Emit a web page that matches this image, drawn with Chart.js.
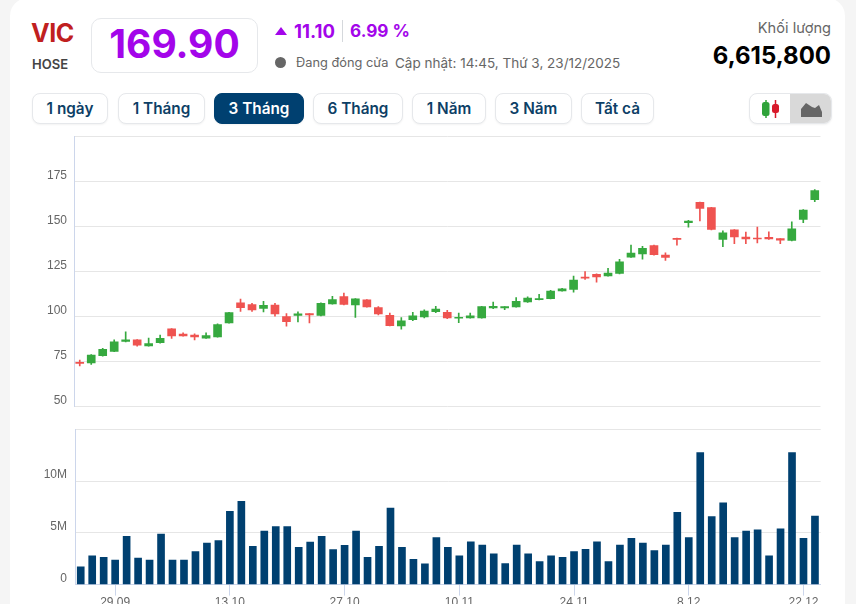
<!DOCTYPE html>
<html lang="vi">
<head>
<meta charset="UTF-8">
<title>VIC - HOSE</title>
<script src="https://cdn.jsdelivr.net/npm/chart.js"></script>
<style>
    html, body { margin: 0; height: 100%; overflow: hidden; background: #f5f5f5; font-family: Inter, Arial, sans-serif; }
    .card { position: absolute; left: 10px; top: -2px; width: 835px; height: 640px; background: #fff; border-radius: 18px; }
    .abs { position: absolute; white-space: nowrap; }
    .btn { position: absolute; top: 93px; height: 31px; line-height: 29px; box-sizing: border-box; text-align: center;
           border: 1px solid #e6e8eb; border-radius: 8px; font-size: 15.3px; font-weight: 600; color: #0d3f66; background: #fff;
           box-shadow: 0 1px 2px rgba(0,0,0,.05); }
    .btn.on { background: #004070; border-color: #004070; color: #fff; }
    canvas { position: absolute; left: 0; }
</style>
</head>
<body>
<div class="card"></div>

<div class="abs" style="left:31px;top:18px;font-size:25px;font-weight:700;color:#c0201f;letter-spacing:-.5px">VIC</div>
<div class="abs" style="left:32px;top:56px;font-size:13px;font-weight:600;color:#444">HOSE</div>
<div class="abs" style="left:91px;top:18px;width:167px;height:55px;box-sizing:border-box;border:1px solid #e6e8eb;border-radius:10px;text-align:center;line-height:49px;font-size:39px;font-weight:700;color:#a305ea">169.90</div>

<div class="abs" style="left:275px;top:27px;width:0;height:0;border-left:6.5px solid transparent;border-right:6.5px solid transparent;border-bottom:8px solid #a305ea"></div>
<div class="abs" style="left:294px;top:19.5px;font-size:18.5px;font-weight:700;color:#a305ea">11.10</div>
<div class="abs" style="left:342px;top:20px;width:1px;height:22px;background:#d5d8dc"></div>
<div class="abs" style="left:350px;top:20px;font-size:17.2px;font-weight:700;color:#a305ea">6.99 %</div>
<div class="abs" style="left:275px;top:57px;width:11px;height:11px;border-radius:50%;background:#666"></div>
<div class="abs" style="left:296px;top:55px;font-size:12.8px;color:#666">Đang đóng cửa</div>
<div class="abs" style="left:395px;top:55px;font-size:13.5px;color:#666">Cập nhật: 14:45, Thứ 3, 23/12/2025</div>

<div class="abs" style="right:25px;top:19px;font-size:14.6px;color:#666">Khối lượng</div>
<div class="abs" style="right:25px;top:41px;font-size:24px;font-weight:700;color:#000">6,615,800</div>

<div class="btn" style="left:32px;width:76px">1 ngày</div>
<div class="btn" style="left:118px;width:87px">1 Tháng</div>
<div class="btn on" style="left:214px;width:90px">3 Tháng</div>
<div class="btn" style="left:313px;width:90px">6 Tháng</div>
<div class="btn" style="left:412px;width:74px">1 Năm</div>
<div class="btn" style="left:495px;width:77px">3 Năm</div>
<div class="btn" style="left:581px;width:73px">Tất cả</div>

<div class="btn" style="left:749px;width:83px;overflow:hidden">
    <div class="abs" style="left:40px;top:0;width:42px;height:29px;background:#d9d9d9"></div>
    <svg class="abs" style="left:0;top:0" width="82" height="29">
        <path d="M16 6v18" stroke="#2fa33a" stroke-width="1.5"/><rect x="12" y="8" width="7.5" height="14" rx="2.5" fill="#2fa33a"/>
        <path d="M25.5 6v18" stroke="#d8192a" stroke-width="1.5"/><rect x="22" y="10" width="7" height="9" rx="2.5" fill="#d8192a"/>
        <path d="M51 23v-8l5-6 6 4 3 1 4-3 3 7v5z" fill="#666"/>
    </svg>
</div>

<canvas id="priceChart" width="856" height="299" style="top:122px"></canvas>
<canvas id="volumeChart" width="856" height="196" style="top:414px"></canvas>

<script>
    const dates = ['24.09','25.09','26.09','29.09','30.09','01.10','02.10','03.10','06.10','07.10','08.10','09.10','10.10',
        '13.10','14.10','15.10','16.10','17.10','20.10','21.10','22.10','23.10','24.10','27.10','28.10','29.10','30.10','31.10',
        '03.11','04.11','05.11','06.11','07.11','10.11','11.11','12.11','13.11','14.11','17.11','18.11','19.11','20.11','21.11',
        '24.11','25.11','26.11','27.11','28.11','01.12','02.12','03.12','04.12','05.12','08.12','09.12','10.12','11.12','12.12',
        '15.12','16.12','17.12','18.12','19.12','22.12','23.12'];
    const tickDates = ['29.09','13.10','27.10','10.11','24.11','8.12','22.12'];
    const tickIndexes = [3, 13, 23, 33, 43, 53, 63];

    const opens = [74.6,74.3,78.3,80.7,86.2,87.1,83.8,85.5,93.2,90.3,89.7,88.1,88.8,96.5,107.7,106.6,104.6,106.4,100,100.6,101.7,
        100.7,107,111.1,106.5,109.3,105,100.7,94.8,98.3,99.8,102.8,102.4,99.1,99.3,99.3,104.8,104.8,105.4,108.1,109.4,110,
        114.3,115,121.9,123.5,122.6,123.9,133,134.8,139.4,134.1,143.3,152,163.3,160.4,142.8,148.1,144.1,143.5,143.9,143.3,142.2,153.9,164.8];
    const highs = [75.9,79,82.4,87.1,91.5,87.3,88.1,89.7,93.4,91,90.4,91,96,102.4,109.7,107.4,108.5,107.4,101.7,102.6,101.7,
        107.6,111.3,113,110,109.4,105.6,101.9,99.4,102.4,103.7,105.7,103.5,101.9,102,105.7,108,105.6,110.6,110.9,112.4,114.6,
        115.7,122.4,125,123.7,126.7,131.7,139.6,138.9,139.6,135.4,143.5,153.3,163.5,160.6,147.6,148.3,146.9,149.6,147,143.3,152.6,159.3,170.4];
    const lows = [72.6,73.5,78.1,80.5,86,83.6,83.6,85.3,87.9,89.2,87.1,87.9,88.6,96.3,102.9,102.9,102.6,100.2,94.7,97.1,96.5,
        100.4,106.9,106.5,99.6,105.2,100.9,94.8,93,97.8,99.3,102.2,98.9,96.7,99.1,99.1,104.4,103.9,105.2,107.8,109.3,109.8,
        114.1,113.5,120.6,119.1,122.4,123.7,132.8,131.9,134.1,131.1,139.6,149.6,153.1,148.1,138.7,140.4,140.4,140.9,142.8,140.4,142,152,163.7];
    const closes = [74.1,78.7,81.8,86,87.1,84.2,85.1,87.9,89.3,89.3,88.8,89.5,95.6,102.2,105,103.7,106.3,101.5,97.2,101.5,100.9,
        107.4,109.4,106.7,109.8,105.4,101.5,95,97.6,100.4,103.1,104.1,99.3,99.4,100.4,105.6,105.7,105.6,108.5,110.2,109.8,114.1,
        115.4,120.2,121.3,122,124.1,130.4,135.2,137.8,134.3,132.8,142.8,153,160,148.3,146.5,144.1,143,143,143,142.4,148.7,159.1,169.9];
    const volumes = [1.72,2.77,2.64,2.36,4.65,2.55,2.36,4.87,2.36,2.36,3.18,4.01,4.24,7.07,8.03,3.69,5.16,5.6,5.6,3.6,4.11,4.65,
        3.38,3.79,5.16,2.64,3.69,7.39,3.6,2.45,2,4.55,3.6,2.77,4.14,3.82,2.96,2.04,3.82,2.96,2.23,2.77,2.64,3.18,3.41,4.14,2.23,
        3.82,4.46,4.01,3.28,3.82,6.97,4.55,12.74,6.56,7.9,4.55,5.16,5.29,2.77,5.38,12.74,4.46,6.62];

    const UP = '#36a93f', DOWN = '#ef5350', BAR = '#004070';
    const AXIS = '#ccd6eb', GRID = '#e6e6e6', LABEL = '#666';
    const candleColors = closes.map((c, i) => c >= opens[i] ? UP : DOWN);

    function yAxis(min, max, step, hidden, width, format) {
        return {
            min: min, max: max,
            afterFit: scale => { scale.width = width; },
            border: { color: AXIS },
            grid: { color: GRID, drawTicks: false },
            ticks: {
                stepSize: step, padding: width - 67, labelOffset: -6, color: LABEL, font: { family: 'Liberation Sans', size: 12 },
                callback: v => v === hidden ? '' : format(v)
            }
        };
    }

    new Chart(document.getElementById('priceChart'), {
        type: 'bar',
        data: {
            labels: dates,
            datasets: [
                { data: lows.map((l, i) => [l, highs[i]]), backgroundColor: candleColors, barThickness: 1, grouped: false, order: 2 },
                { data: opens.map((o, i) => [o, closes[i]]), backgroundColor: candleColors, barThickness: 8, minBarLength: 1, grouped: false, order: 1 }
            ]
        },
        options: {
            responsive: false, animation: false,
            layout: { padding: { top: 6, right: 35.5, bottom: 14, left: 0 } },
            plugins: { legend: { display: false }, tooltip: { enabled: false } },
            scales: {
                x: { display: false },
                y: yAxis(50, 200, 25, 200, 74, v => v)
            }
        }
    });

    new Chart(document.getElementById('volumeChart'), {
        type: 'bar',
        data: {
            labels: dates,
            datasets: [{ data: volumes.map(v => v * 1000000), backgroundColor: BAR, barThickness: 7 }]
        },
        options: {
            responsive: false, animation: false,
            layout: { padding: { top: 8, right: 35.3, bottom: 0, left: 0 } },
            plugins: { legend: { display: false }, tooltip: { enabled: false } },
            scales: {
                x: {
                    afterBuildTicks: scale => { scale.ticks = tickIndexes.map(i => ({ value: i })); },
                    border: { color: AXIS },
                    grid: { offset: false, drawOnChartArea: false, color: AXIS, tickLength: 11 },
                    ticks: {
                        autoSkip: false, maxRotation: 0, padding: 0, color: LABEL, font: { family: 'Liberation Sans', size: 12 },
                        callback: (v, i) => tickDates[i]
                    }
                },
                y: yAxis(0, 15000000, 5000000, 15000000, 75, v => v === 0 ? '0' : (v / 1000000) + 'M')
            }
        }
    });
</script>
</body>
</html>
